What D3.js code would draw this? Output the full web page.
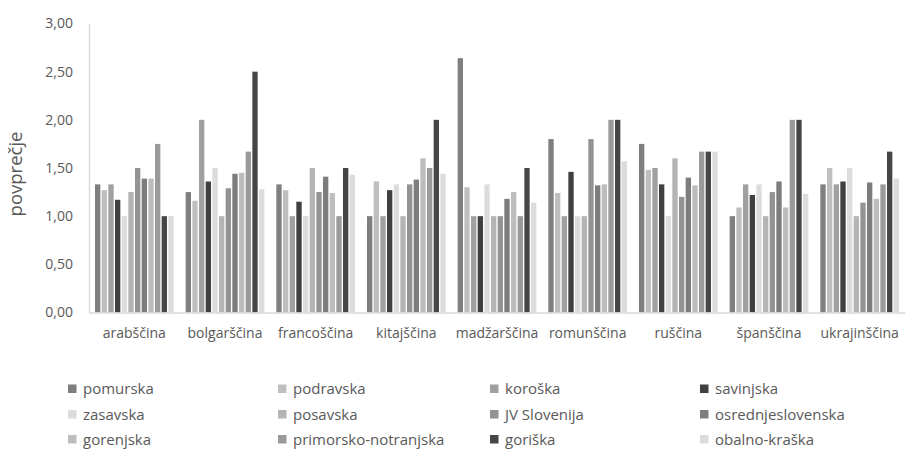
<!DOCTYPE html>
<html>
<head>
<meta charset="utf-8">
<script src="https://cdn.jsdelivr.net/npm/d3@7"></script>
<style>
  html, body { margin: 0; padding: 0; background: #fff; }
  svg { display: block; font-family: "Open Sans", sans-serif; }
</style>
</head>
<body>
<svg id="chart" width="907" height="449"></svg>
<script>
// Languages on the category axis
const categories = ["arabščina", "bolgarščina", "francoščina", "kitajščina", "madžarščina",
  "romunščina", "ruščina", "španščina", "ukrajinščina"];

// Regions (one bar per region inside each language group)
const regions = ["pomurska", "podravska", "koroška", "savinjska", "zasavska", "posavska",
  "JV Slovenija", "osrednjeslovenska", "gorenjska", "primorsko-notranjska", "goriška", "obalno-kraška"];

const regionColors = ["#7f7f7f", "#bfbfbf", "#a0a0a0", "#404040", "#dcdcdc", "#b4b4b4",
  "#939393", "#7d7d7d", "#bdbdbd", "#9a9a9a", "#464646", "#dcdcdc"];

// Average per region, one array per language (same order as regions)
const arabscina    = [1.33, 1.27, 1.33, 1.17, 1.00, 1.25, 1.50, 1.39, 1.39, 1.75, 1.00, 1.00];
const bolgarscina  = [1.25, 1.16, 2.00, 1.36, 1.50, 1.00, 1.29, 1.44, 1.45, 1.67, 2.50, 1.28];
const francoscina  = [1.33, 1.27, 1.00, 1.15, 1.00, 1.50, 1.25, 1.41, 1.24, 1.00, 1.50, 1.43];
const kitajscina   = [1.00, 1.36, 1.00, 1.27, 1.33, 1.00, 1.33, 1.38, 1.60, 1.50, 2.00, 1.44];
const madzarscina  = [2.64, 1.30, 1.00, 1.00, 1.33, 1.00, 1.00, 1.18, 1.25, 1.00, 1.50, 1.14];
const romunscina   = [1.80, 1.24, 1.00, 1.46, 1.00, 1.00, 1.80, 1.32, 1.33, 2.00, 2.00, 1.57];
const ruscina      = [1.75, 1.48, 1.50, 1.33, 1.00, 1.60, 1.20, 1.40, 1.32, 1.67, 1.67, 1.67];
const spanscina    = [1.00, 1.09, 1.33, 1.22, 1.33, 1.00, 1.25, 1.36, 1.09, 2.00, 2.00, 1.23];
const ukrajinscina = [1.33, 1.50, 1.33, 1.36, 1.50, 1.00, 1.14, 1.35, 1.18, 1.33, 1.67, 1.39];

const seriesByCategory = [arabscina, bolgarscina, francoscina, kitajscina, madzarscina,
  romunscina, ruscina, spanscina, ukrajinscina];

const yTicks = [0, 0.5, 1, 1.5, 2, 2.5, 3];
const yTitle = "povprečje";

const fmt = v => v.toFixed(2).replace(".", ",");
const textColor = "#595959";
const axisColor = "#d9d9d9";

const svg = d3.select("#chart");

const plot = { left: 89, right: 905, top: 23.5, bottom: 312.5 };

const x0 = d3.scaleBand().domain(categories).range([plot.left, plot.right]).padding(0);
const x1 = d3.scaleBand().domain(regions).range([0, x0.bandwidth()])
  .paddingInner(0.2).paddingOuter(0.9);
const y = d3.scaleLinear().domain([0, 3]).range([plot.bottom, plot.top]);
const color = d3.scaleOrdinal().domain(regions).range(regionColors);

// Bars
const groups = svg.append("g").selectAll("g")
  .data(categories)
  .join("g")
  .attr("transform", c => `translate(${x0(c)},0)`);

groups.selectAll("rect")
  .data((c, i) => regions.map((r, j) => ({ region: r, value: seriesByCategory[i][j] })))
  .join("rect")
  .attr("x", d => x1(d.region))
  .attr("width", x1.bandwidth())
  .attr("y", d => y(d.value))
  .attr("height", d => y(0) - y(d.value))
  .attr("fill", d => color(d.region));

// Y axis
const yAxis = svg.append("g")
  .attr("transform", `translate(${plot.left},0)`)
  .call(d3.axisLeft(y).tickValues(yTicks).tickFormat(fmt).tickSize(0).tickPadding(16));
yAxis.select(".domain").attr("stroke", axisColor).attr("stroke-width", 1.3);
yAxis.selectAll("text").attr("fill", textColor).style("font-size", "14px")
  .style("font-family", "'Open Sans', sans-serif");

// X axis
const xAxis = svg.append("g")
  .attr("transform", `translate(0,${plot.bottom})`)
  .call(d3.axisBottom(x0).tickSize(0).tickPadding(16));
xAxis.select(".domain").attr("stroke", axisColor).attr("stroke-width", 1.3);
xAxis.selectAll("text").attr("fill", textColor).style("font-size", "14px")
  .style("font-family", "'Open Sans', sans-serif");

// Y axis title
svg.append("text")
  .attr("transform", `translate(22,${(plot.top + plot.bottom) / 2 + 6}) rotate(-90)`)
  .attr("text-anchor", "middle")
  .attr("fill", textColor)
  .style("font-size", "18.5px")
  .text(yTitle);

// Legend: four columns, three rows
const legendCols = [68, 278, 490, 700];
const legendRows = [389, 414.5, 439.5];
const legend = svg.append("g").selectAll("g")
  .data(regions)
  .join("g")
  .attr("transform", (r, i) => `translate(${legendCols[i % 4]},${legendRows[Math.floor(i / 4)]})`);

legend.append("rect")
  .attr("x", 0).attr("y", -4.5)
  .attr("width", 8.5).attr("height", 8.5)
  .attr("fill", r => color(r));

legend.append("text")
  .attr("x", 15).attr("dy", "0.35em")
  .attr("fill", textColor)
  .style("font-size", "15px")
  .text(r => r);
</script>
</body>
</html>
